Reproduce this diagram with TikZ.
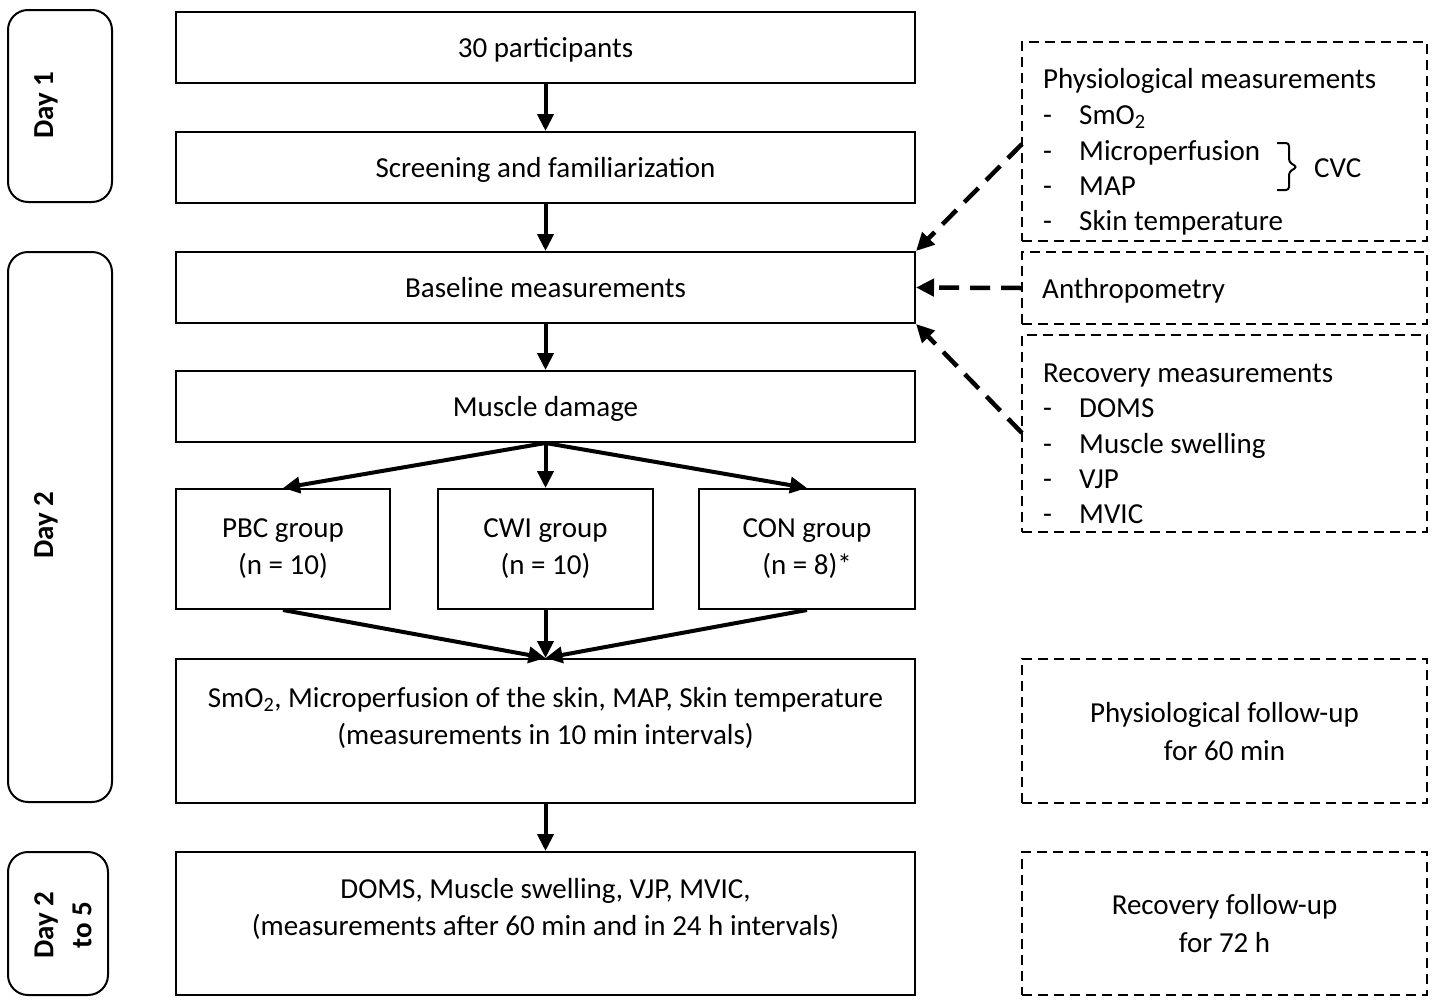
\documentclass[tikz,border=0pt]{standalone}
\usepackage{fontspec}
\setmainfont{Carlito}
\usetikzlibrary{arrows.meta}
\tikzset{
  mainbox/.style={draw,line width=2pt,rectangle,inner sep=0pt,align=center},
  daybox/.style={draw,line width=2pt,rectangle,rounded corners=20pt,inner sep=0pt},
  dashbox/.style={draw,line width=2pt,rectangle,inner sep=0pt,dash pattern=on 10pt off 6pt},
  daytext/.style={rotate=90,font=\fontsize{29}{38}\selectfont\bfseries,align=center,inner sep=0pt},
  txt/.style={font=\fontsize{29}{37}\selectfont,inner sep=0pt,align=center,text height=27pt,text depth=7pt},
  mtxt/.style={font=\fontsize{29}{37.5}\selectfont,inner sep=0pt,align=center},
  flow/.style={line width=4pt,-{Triangle[length=17pt,width=16pt]}},
  dflow/.style={line width=4.5pt,dash pattern=on 20pt off 11pt,-{Triangle[length=18pt,width=17pt]}},
}
\begin{document}
\begin{tikzpicture}[x=1pt,y=-1pt]
\useasboundingbox (0,0) rectangle (1437,1004);
% day boxes
\node[daybox,minimum width=104pt,minimum height=192pt] (d1) at (60,106) {};
\node[daytext] (d1t) at (46,105) {Day 1};
\node[daybox,minimum width=104pt,minimum height=550pt] (d2) at (60,527) {};
\node[daytext] (d2t) at (46,525) {Day 2};
\node[daybox,minimum width=100pt,minimum height=143pt] (d3) at (58,923.5) {};
\node[daytext] (d3t) at (63,925) {Day 2\\to 5};
% main boxes
\node[mainbox,txt,minimum width=739pt,minimum height=71pt] (p30) at (545.5,47.5) {30 participants};
\node[mainbox,txt,minimum width=739pt,minimum height=71pt] (scr) at (545.5,167.5) {Screening and familiarization};
\node[mainbox,txt,minimum width=739pt,minimum height=71pt] (base) at (545.5,287.5) {Baseline measurements};
\node[mainbox,txt,minimum width=739pt,minimum height=71pt] (md) at (545.5,406.5) {Muscle damage};
\node[mainbox,minimum width=214pt,minimum height=120pt] (pbc) at (283,549) {};
\node[mtxt] (pbct) at (283,548.5) {PBC group\\(n = 10)};
\node[mainbox,minimum width=215pt,minimum height=120pt] (cwi) at (545.5,549) {};
\node[mtxt] (cwit) at (545.5,548.5) {CWI group\\(n = 10)};
\node[mainbox,minimum width=216pt,minimum height=120pt] (con) at (807,549) {};
\node[mtxt] (cont) at (807,548.5) {CON group\\(n = 8)*};
\node[mainbox,minimum width=739pt,minimum height=144pt] (smo) at (545.5,731) {};
\node[mtxt] (smot) at (545.5,718) {SmO\textsubscript{2}, Microperfusion of the skin, MAP, Skin temperature\\(measurements in 10 min intervals)};
\node[mainbox,minimum width=739pt,minimum height=143pt] (doms) at (545.5,923.5) {};
\node[mtxt] (domst) at (545.5,909) {DOMS, Muscle swelling, VJP, MVIC,\\(measurements after 60 min and in 24 h intervals)};
% right dashed boxes
\node[dashbox,minimum width=405pt,minimum height=199pt] (phys) at (1224.5,141.5) {};
\node[dashbox,minimum width=405pt,minimum height=72pt] (anth) at (1224.5,288) {};
\node[dashbox,minimum width=405pt,minimum height=197pt] (rec) at (1224.5,433.5) {};
\node[dashbox,minimum width=405pt,minimum height=144pt] (pfu) at (1224.5,731) {};
\node[mtxt] (pfut) at (1224.5,731.5) {Physiological follow-up\\for 60 min};
\node[dashbox,minimum width=405pt,minimum height=143pt] (rfu) at (1224.5,923.5) {};
\node[mtxt] (rfut) at (1224.5,923.5) {Recovery follow-up\\for 72 h};
% physiological list
\node[txt,anchor=west] (ph0) at (1043,78) {Physiological measurements};
\node[txt,anchor=west] (ph1d) at (1043,114) {-};
\node[txt,anchor=west] (ph1) at (1079,114) {SmO\textsubscript{2}};
\node[txt,anchor=west] (ph2d) at (1043,150) {-};
\node[txt,anchor=west] (ph2) at (1079,150) {Microperfusion};
\node[txt,anchor=west] (ph3d) at (1043,185) {-};
\node[txt,anchor=west] (ph3) at (1079,185) {MAP};
\node[txt,anchor=west] (ph4d) at (1043,220) {-};
\node[txt,anchor=west] (ph4) at (1079,220) {Skin temperature};
\draw[line width=2pt,rounded corners=3pt] (1277,143) -- (1289,143) -- (1289,162) -- (1297,167) -- (1289,172) -- (1289,190) -- (1277,190);
\node[txt,anchor=west] (cvc) at (1314,167) {CVC};
\node[txt,anchor=west] (anthtxt) at (1042,288) {Anthropometry};
% recovery list
\node[txt,anchor=west] (rc0) at (1043,372) {Recovery measurements};
\node[txt,anchor=west] (rc1d) at (1043,407) {-};
\node[txt,anchor=west] (rc1) at (1079,407) {DOMS};
\node[txt,anchor=west] (rc2d) at (1043,443) {-};
\node[txt,anchor=west] (rc2) at (1079,443) {Muscle swelling};
\node[txt,anchor=west] (rc3d) at (1043,478) {-};
\node[txt,anchor=west] (rc3) at (1079,478) {VJP};
\node[txt,anchor=west] (rc4d) at (1043,513) {-};
\node[txt,anchor=west] (rc4) at (1079,513) {MVIC};
% arrows
\draw[flow] (p30) -- (scr);
\draw[flow] (scr) -- (base);
\draw[flow] (base) -- (md);
\draw[flow] (md.south) -- (pbc.north);
\draw[flow] (md.south) -- (cwi.north);
\draw[flow] (md.south) -- (con.north);
\draw[flow] (pbc.south) -- (smo.north);
\draw[flow] (cwi.south) -- (smo.north);
\draw[flow] (con.south) -- (smo.north);
\draw[flow] (smo) -- (doms);
\coordinate (physout) at (1022,144);
\coordinate (recout) at (1022,433);
\draw[dflow] (physout) -- (base.north east);
\draw[dflow] (anth.west) -- (base.east);
\draw[dflow] (recout) -- (base.south east);
\end{tikzpicture}
\end{document}
